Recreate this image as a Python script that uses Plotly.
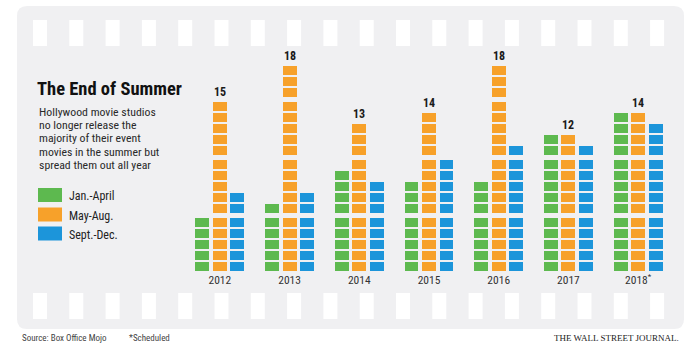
import plotly.graph_objects as go

# ---------------- data ----------------
years = ["2012", "2013", "2014", "2015", "2016", "2017", "2018"]
year_labels = ["2012", "2013", "2014", "2015", "2016", "2017", "2018<sup>*</sup>"]
jan_april = [5, 6, 9, 8, 8, 12, 14]
may_aug = [15, 18, 13, 14, 18, 12, 14]
sept_dec = [7, 7, 8, 10, 11, 11, 13]
series_names = ["Jan.-April", "May-Aug.", "Sept.-Dec."]
series_colors = ["#5DB94F", "#F7A12A", "#1C95DA"]

# ---------------- layout constants ----------------
W, H = 700, 350
ML, MR, MT, MB = 185, 27, 51, 79
PW, PH = W - ML - MR, H - MT - MB
Y_MAX = 20.0
BLOCK_H = 0.82   # block height in units of block pitch
GROUP_GAP = 0.27  # extra gap after every 5 blocks
COL_W = 0.2
OFFSETS = [-0.251, 0.0, 0.251]

FONT = "Liberation Sans Narrow, Roboto Condensed, Arial Narrow, Roboto, sans-serif"
BG = "#F0F0F2"


def px(x):
    return (x - ML) / PW


def py(y):
    return (H - MB - y) / PH


def block_bases(n):
    return [k + (k // 5) * GROUP_GAP for k in range(n)]


fig = go.Figure()

for s, (vals, name, col) in enumerate(zip([jan_april, may_aug, sept_dec], series_names, series_colors)):
    xs, bases, hs = [], [], []
    for i, n in enumerate(vals):
        for b in block_bases(n):
            xs.append(i + OFFSETS[s])
            bases.append(b)
            hs.append(BLOCK_H)
    fig.add_trace(go.Bar(x=xs, y=hs, base=bases, width=COL_W, name=name,
                         marker=dict(color=col, line=dict(width=0)),
                         hoverinfo="skip", showlegend=False))

annotations = []
# totals above tallest column
for i in range(len(years)):
    vals = [jan_april[i], may_aug[i], sept_dec[i]]
    m = max(vals)
    top = block_bases(m)[-1] + BLOCK_H
    annotations.append(dict(x=i, y=top, xref="x", yref="y", text=f"<b>{m}</b>",
                            showarrow=False, yanchor="bottom", yshift=1,
                            font=dict(family=FONT, size=12, color="#1a1a1a")))

# title and subtitle
annotations.append(dict(x=px(35), y=py(89), xref="paper", yref="paper", text="<b>The End of Summer</b>",
                        showarrow=False, xanchor="left", yanchor="middle",
                        font=dict(family=FONT, size=18.5, color="#111111")))
sub_lines = ["Hollywood movie studios", "no longer release the", "majority of their event",
             "movies in the summer but", "spread them out all year"]
for k, line in enumerate(sub_lines):
    annotations.append(dict(x=px(37), y=py(111.5 + 13.2 * k), xref="paper", yref="paper", text=line,
                            showarrow=False, xanchor="left", yanchor="middle", height=13,
                            font=dict(family=FONT, size=11.8, color="#2a2a2a")))

# legend
shapes = []
leg_y = [195, 214.5, 233.5]
for k in range(3):
    shapes.append(dict(type="rect", xref="paper", yref="paper", x0=px(38), x1=px(62),
                       y0=py(leg_y[k] - 7), y1=py(leg_y[k] + 7), fillcolor=series_colors[k],
                       line=dict(width=0), layer="above"))
    annotations.append(dict(x=px(67), y=py(leg_y[k] + 1), xref="paper", yref="paper", text=series_names[k],
                            showarrow=False, xanchor="left", yanchor="middle",
                            font=dict(family=FONT, size=12, color="#222222")))

# footer
annotations.append(dict(x=px(20), y=py(338), xref="paper", yref="paper", text="Source: Box Office Mojo",
                        showarrow=False, xanchor="left", yanchor="middle",
                        font=dict(family=FONT, size=9, color="#444444")))
annotations.append(dict(x=px(127), y=py(338), xref="paper", yref="paper", text="*Scheduled",
                        showarrow=False, xanchor="left", yanchor="middle",
                        font=dict(family=FONT, size=9, color="#444444")))
annotations.append(dict(x=px(681), y=py(338), xref="paper", yref="paper", text="THE WALL STREET JOURNAL.",
                        showarrow=False, xanchor="right", yanchor="middle",
                        font=dict(family="Liberation Serif, DejaVu Serif, serif", size=9, color="#222222")))

# panel background (rounded)
x0, x1, y0, y1 = px(17), px(684), py(329), py(6)
rx, ry = 10 / PW, 10 / PH
path = (f"M {x0+rx},{y0} L {x1-rx},{y0} Q {x1},{y0} {x1},{y0+ry} L {x1},{y1-ry} "
        f"Q {x1},{y1} {x1-rx},{y1} L {x0+rx},{y1} Q {x0},{y1} {x0},{y1-ry} "
        f"L {x0},{y0+ry} Q {x0},{y0} {x0+rx},{y0} Z")
shapes.insert(0, dict(type="path", xref="paper", yref="paper", path=path, fillcolor=BG,
                      line=dict(width=0), layer="below"))

# film sprocket holes
for k in range(18):
    hx = 33 + 36.3 * k
    for (ya, yb) in [(20, 46), (293, 319)]:
        shapes.append(dict(type="rect", xref="paper", yref="paper", x0=px(hx), x1=px(hx + 14),
                           y0=py(yb), y1=py(ya), fillcolor="#FFFFFF", line=dict(width=0), layer="below"))

fig.update_layout(
    width=W, height=H,
    margin=dict(l=ML, r=MR, t=MT, b=MB, pad=0),
    paper_bgcolor="#FFFFFF", plot_bgcolor="rgba(0,0,0,0)",
    barmode="overlay", bargap=0,
    showlegend=False,
    shapes=shapes, annotations=annotations,
    xaxis=dict(range=[-0.5, 6.5], tickvals=list(range(len(years))), ticktext=year_labels,
               showgrid=False, zeroline=False, showline=False, ticks="",
               tickfont=dict(family=FONT, size=11.5, color="#333333"), fixedrange=True),
    yaxis=dict(range=[0, Y_MAX], visible=False, fixedrange=True),
)

fig.write_html("out.html")
